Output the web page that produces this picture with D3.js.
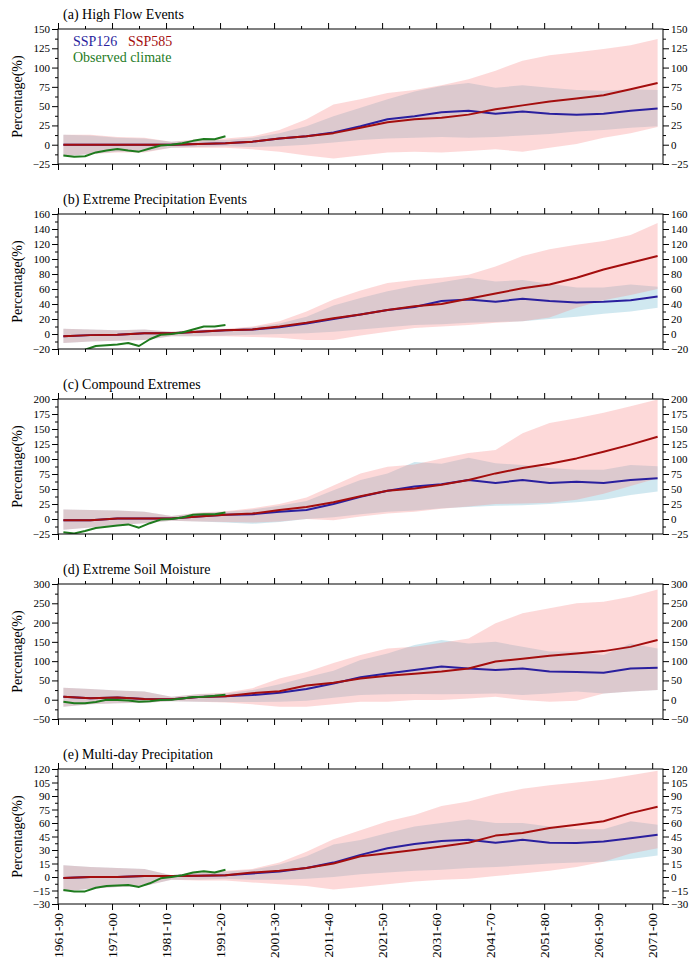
<!DOCTYPE html>
<html><head><meta charset="utf-8">
<script src="https://cdn.jsdelivr.net/npm/d3@7"></script>
<style>
html,body{margin:0;padding:0;background:#fff;}
svg text{font-family:"Liberation Serif","Times New Roman",Times,serif;}
</style></head>
<body><svg id="chart" width="691" height="971"></svg>
<script>
// ---------- data ----------
const years = [1962,1967,1972,1977,1982,1987,1992,1997,2002,2007,2012,2017,2022,2027,2032,2037,2042,2047,2052,2057,2062,2067,2072];
const obsYears = [1962,1964,1966,1968,1970,1972,1974,1976,1978,1980,1982,1984,1986,1988,1990,1992];
const xTickYears = [1961,1971,1981,1991,2001,2011,2021,2031,2041,2051,2061,2071];
const xTickLabels = ["1961-90","1971-00","1981-10","1991-20","2001-30","2011-40","2021-50","2031-60","2041-70","2051-80","2061-90","2071-00"];

// (a) High Flow Events
const a585   = [0,0,0,0,0,1,2,4,8,11,15,22,29,33,35,39,46,51,56,60,64,72,80];
const a126   = [0,0,0,0,0,1,2,4,8,11,16,24,33,37,42,44,40,43,40,39,40,44,47];
const a585Up = [13,13,10,9,4,7,8,11,19,33,52,59,67,71,77,85,96,109,116,120,124,129,137];
const a585Lo = [-15,-12,-10,-10,-4,-4,-4,-6,-9,-14,-18,-14,-10,-9,-10,-8,-6,-9,-4,1,9,15,23];
const a126Up = [13,12,9,8,4,6,6,9,15,24,37,48,59,69,76,80,74,77,74,71,70,72,71];
const a126Lo = [-15,-12,-9,-9,-4,-3,-2,-3,-2,0,3,6,8,9,10,9,10,12,14,17,19,22,24];
const aObs   = [-14,-15.5,-15,-10,-7.5,-5.5,-7.5,-9,-5,-1,0,2,5,7.5,7,11];

// (b) Extreme Precipitation Events
const b585   = [-3,-1.5,-1,1,1,3,5,6,10,15,21,26,32,37,40,47,54,61,66,75,86,95,104];
const b126   = [-3,-1.5,-1,1,1,3,5,6,9,14,20,26,32,36,44,46,43,47,44,42,43,45,50];
const b585Up = [7,6,5,6,3,6,7,10,17,30,46,58,68,72,75,79,90,104,113,119,124,132,148];
const b585Lo = [-12,-10,-9,-8,-3,-3,-3,-4,-5,-8,-8,-2,3,8,10,12,15,17,22,35,45,52,60];
const b126Up = [7,6,5,6,3,5,6,9,14,23,38,48,57,64,69,75,70,72,67,62,62,66,63];
const b126Lo = [-12,-10,-9,-8,-3,-3,-2,-1,0,1,3,6,9,12,13,15,16,17,20,23,27,30,35];
const bObs   = [-27,-25,-21,-16,-15,-14,-12,-16,-7,-1,0,2,6,10,10,12];

// (c) Compound Extremes
const c585   = [-2,-2,1,1,1,4,7,9,15,20,28,38,47,51,57,65,76,85,92,101,112,124,137];
const c126   = [-2,-2,1,1,1,4,7,8,12,15,25,37,47,54,58,65,60,65,60,62,60,65,68];
const c585Up = [16,15,14,12,5,11,13,18,25,36,56,76,87,91,101,110,115,143,160,168,177,188,199];
const c585Lo = [-18,-14,-10,-7,-3,-4,-5,-6,-4,0,-2,4,9,12,17,21,25,26,27,32,42,55,68];
const c126Up = [16,15,14,12,5,10,12,16,22,30,48,65,76,95,92,102,93,90,85,82,82,90,88];
const c126Lo = [-18,-14,-10,-7,-3,-4,-6,-8,-5,0,3,8,12,14,18,20,22,23,25,28,32,40,46];
const cObs   = [-22,-24,-20,-15,-13,-11,-9,-14.5,-7,-1,0,2.5,7,8,8,11];

// (d) Extreme Soil Moisture
const d585   = [8,4,6,2,1,7,9,17,22,37,44,55,62,67,73,81,99,106,114,120,126,137,155];
const d126   = [8,4,6,2,1,7,9,12,18,28,42,58,68,77,86,81,77,81,73,72,70,81,83];
const d585Up = [31,28,24,21,8,15,18,30,55,72,95,116,133,137,148,159,198,224,237,250,254,267,286];
const d585Lo = [-18,-12,-9,-8,-4,-5,-7,-12,-18,-18,-12,-5,-5,-1,-1,3,8,-1,-5,-3,16,21,25];
const d126Up = [31,28,24,21,8,14,16,25,40,58,75,103,120,142,155,146,150,137,125,125,116,146,133];
const d126Lo = [-18,-12,-9,-8,-4,-5,-6,-6,-5,-3,5,12,14,15,14,15,16,12,16,21,16,21,25];
const dObs   = [-5,-9,-9,-6,0,-1,-2,-5,-4,-1,0,3,7,8,10,13];

// (e) Multi-day Precipitation
const e585   = [-1,0,0,1,1,1.5,2,5,7,10,15,23,26.5,30,34,38,46,49,54.5,58,62,71,78];
const e126   = [-1,0,0,1,1,1.5,2,4,6,10,16,24.6,32,36.6,40,41.4,38,41.4,38,37.7,39.5,43,47];
const e585Up = [13,11,10,9,2,5,7,9,16,28,42,52,62,69,79,84,92,98,102,105,108,113,118];
const e585Lo = [-16,-13,-11,-10,-3,-4,-4,-6,-8,-10,-14,-11,-8,-5,-3,-2,1,4,7,11,17,26,32];
const e126Up = [13,11,10,9,2,5,6,8,14,23,36,41,49,56,60,64,60,60,56,53,53,62,58];
const e126Lo = [-16,-13,-11,-10,-3,-3,-2,-3,-3,-2,0,3,5,7,8,10,11,13,15,16,17,20,24];
const eObs   = [-14.5,-16,-16,-12,-10,-9.5,-9,-11,-7,-1.5,0,2,5,6.5,5,8];

const titles = ["(a) High Flow Events","(b) Extreme Precipitation Events","(c) Compound Extremes","(d) Extreme Soil Moisture","(e) Multi-day Precipitation"];
const yDomains = [[-25,150],[-20,160],[-25,200],[-50,300],[-30,120]];
const yTicks = [d3.range(-25,151,25), d3.range(-20,161,20), d3.range(-25,201,25), d3.range(-50,301,50), d3.range(-30,121,15)];

// ---------- layout ----------
const C126 = "#2a1f9e", C585 = "#a40e0e", COBS = "#1e7b1e";
const left = 58, right = 663, ph = 135;
const tops = [29, 214, 399, 584, 769];

const panels = [
  {s585:a585,s126:a126,u585:a585Up,l585:a585Lo,u126:a126Up,l126:a126Lo,obs:aObs},
  {s585:b585,s126:b126,u585:b585Up,l585:b585Lo,u126:b126Up,l126:b126Lo,obs:bObs},
  {s585:c585,s126:c126,u585:c585Up,l585:c585Lo,u126:c126Up,l126:c126Lo,obs:cObs},
  {s585:d585,s126:d126,u585:d585Up,l585:d585Lo,u126:d126Up,l126:d126Lo,obs:dObs},
  {s585:e585,s126:e126,u585:e585Up,l585:e585Lo,u126:e126Up,l126:e126Lo,obs:eObs}
];

const svg = d3.select("#chart");
svg.append("rect").attr("width",691).attr("height",971).attr("fill","#fff");
const fmt = v => (v < 0 ? "\u2212" + Math.abs(v) : String(v));

const x = d3.scaleLinear().domain([1961, 2073]).range([left, right]);
const xMinor = xTickYears.map(v => v + 5).filter(v => v < 2073);

panels.forEach((p, i) => {
  const top = tops[i], bot = top + ph;
  const y = d3.scaleLinear().domain(yDomains[i]).range([bot, top]);
  const g = svg.append("g");
  const cid = "clip" + i;
  svg.append("clipPath").attr("id", cid).append("rect")
    .attr("x", left).attr("y", top).attr("width", right - left).attr("height", ph);
  const pg = g.append("g").attr("clip-path", `url(#${cid})`);

  const area = (up, lo) => d3.area().x((d, k) => x(years[k])).y0((d, k) => y(lo[k])).y1((d, k) => y(up[k]))(years);
  pg.append("path").attr("d", area(p.u126, p.l126)).attr("fill", "rgb(98,178,205)").attr("fill-opacity", 0.3);
  pg.append("path").attr("d", area(p.u585, p.l585)).attr("fill", "rgb(248,130,130)").attr("fill-opacity", 0.3);

  const line = (arr, xs) => d3.line().x((d, k) => x(xs[k])).y(d => y(d))(arr);
  pg.append("path").attr("d", line(p.s126, years)).attr("fill","none").attr("stroke", C126).attr("stroke-width", 2).attr("stroke-linejoin","round");
  pg.append("path").attr("d", line(p.s585, years)).attr("fill","none").attr("stroke", C585).attr("stroke-width", 2).attr("stroke-linejoin","round");
  pg.append("path").attr("d", line(p.obs, obsYears)).attr("fill","none").attr("stroke", COBS).attr("stroke-width", 2).attr("stroke-linejoin","round");

  // frame
  g.append("rect").attr("x", left).attr("y", top).attr("width", right - left).attr("height", ph)
    .attr("fill","none").attr("stroke","#000").attr("stroke-width",1);

  // x axes (top & bottom)
  const xb = d3.axisBottom(x).tickValues(xTickYears).tickSize(6).tickFormat("");
  const xbm = d3.axisBottom(x).tickValues(xMinor).tickSize(3).tickFormat("");
  const xt = d3.axisTop(x).tickValues(xTickYears).tickSize(6).tickFormat("");
  const xtm = d3.axisTop(x).tickValues(xMinor).tickSize(3).tickFormat("");
  [ [xb, bot], [xbm, bot], [xt, top], [xtm, top] ].forEach(([ax, yy]) => {
    const a = g.append("g").attr("transform", `translate(0,${yy})`).call(ax);
    a.select(".domain").remove();
    a.selectAll(".tick line").attr("stroke","#000");
    a.selectAll(".tick text").remove();
  });
  if (i === 4) {
    g.append("g").selectAll("text").data(xTickYears).join("text")
      .attr("transform", d => `translate(${x(d) + 5},${bot + 9}) rotate(-90)`)
      .attr("text-anchor","end").attr("font-size", 13.5).attr("fill","#000")
      .text((d, k) => xTickLabels[k]);
  }

  // y axes
  const yt = yTicks[i];
  const step = yt[1] - yt[0];
  const yMinor = yt.slice(0, -1).map(v => v + step / 2);
  const yl = d3.axisLeft(y).tickValues(yt).tickSize(6).tickPadding(2).tickFormat(fmt);
  const ylm = d3.axisLeft(y).tickValues(yMinor).tickSize(3).tickFormat("");
  const yr = d3.axisRight(y).tickValues(yt).tickSize(6).tickPadding(2).tickFormat(fmt);
  const yrm = d3.axisRight(y).tickValues(yMinor).tickSize(3).tickFormat("");
  [ [yl, left], [ylm, left], [yr, right], [yrm, right] ].forEach(([ax, xx]) => {
    const a = g.append("g").attr("transform", `translate(${xx},0)`).call(ax);
    a.select(".domain").remove();
    a.selectAll(".tick line").attr("stroke","#000");
    a.selectAll(".tick text").attr("font-size", 11).attr("fill","#000")
      .style("font-family", '"Liberation Serif","Times New Roman",serif');
  });

  // y title
  g.append("text").attr("transform", `translate(22,${top + ph / 2}) rotate(-90)`)
    .attr("text-anchor","middle").attr("font-size", 14).attr("fill","#000").text("Percentage(%)");
  // panel title
  g.append("text").attr("x", 63).attr("y", top - 10).attr("font-size", 14).attr("fill","#000").text(titles[i]);
});

// legend in panel (a)
const lg = svg.append("g");
lg.append("text").attr("x", 73).attr("y", 46).attr("font-size", 14).attr("fill", C126).text("SSP126");
lg.append("text").attr("x", 128).attr("y", 46).attr("font-size", 14).attr("fill", C585).text("SSP585");
lg.append("text").attr("x", 73).attr("y", 62).attr("font-size", 14).attr("fill", COBS).text("Observed climate");
</script></body></html>
